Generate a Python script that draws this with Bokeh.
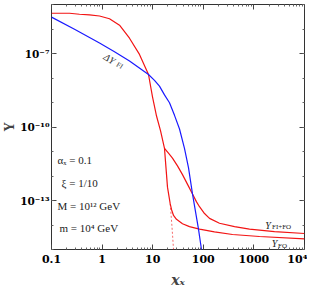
from bokeh.plotting import figure
from bokeh.models import FixedTicker, LogAxis, Range1d
from bokeh.core.properties import value
from bokeh.embed import file_html
from bokeh.resources import INLINE

# ---- data ----
# freeze-in curve (red, upper, steep drop)
fi_x = [0.1, 0.227, 0.357, 0.564, 0.889, 1.40, 2.21, 3.48, 5.48, 8.26, 9.91, 11.9, 14.3, 17.1, 19.6, 22.2]
fi_y = [4.4e-6, 4.4e-6, 4.0e-6, 3.76e-6, 3.4e-6, 2.61e-6, 1.43e-6, 4.2e-7, 9.2e-8, 1.39e-8, 1.7e-9,
        2.81e-10, 6.9e-11, 1.34e-11, 3.5e-13, 7.3e-14]
# dashed continuation of the freeze-in curve
fid_x = [22.2, 24.0, 25.8, 26.1]
fid_y = [7.3e-14, 9.0e-15, 1.0e-15, 6.9e-16]
# Y_FI+FO
fifo_x = [17.1, 20.5, 24.6, 30.9, 38.8, 48.8, 61.2, 73.5, 84.1, 105.7, 132.7, 208.9, 414, 818, 2553, 10000]
fifo_y = [1.34e-11, 8.5e-12, 5.37e-12, 2.59e-12, 1.14e-12, 4.56e-13, 1.83e-13, 8.8e-14, 5.57e-14,
          2.94e-14, 1.86e-14, 1.18e-14, 8.6e-15, 6.8e-15, 5.4e-15, 4.5e-15]
# Y_FO
fo_x = [22.2, 23.6, 25.8, 29.5, 38.8, 53.3, 84.1, 166, 378, 1291, 10000]
fo_y = [7.3e-14, 4.2e-14, 2.45e-14, 1.70e-14, 1.13e-14, 8.6e-15, 6.8e-15, 5.2e-15, 4.1e-15, 3.4e-15, 2.7e-15]
# Delta Y_FI (blue)
dfi_x = [0.1, 0.285, 0.889, 1.758, 3.483, 8.26, 10.86, 13.61, 17.10, 21.48, 26.98, 33.88, 42.46, 51.05,
         61.24, 70.15, 80.35, 92.0, 93.3]
dfi_y = [3.05e-6, 9.7e-7, 2.66e-7, 1.19e-7, 4.99e-8, 1.39e-8, 8.0e-9, 4.65e-9, 2.04e-9, 9.8e-10,
         2.99e-10, 8.3e-11, 1.34e-11, 2.15e-12, 1.83e-13, 3.5e-14, 6.8e-15, 1.0e-15, 6.9e-16]

x_ticks = [0.1, 1, 10, 100, 1000, 10000]
x_tick_labels = ["0.1", "1", "10", "100", "1000", "10\u2074"]
x_minor = [m * 10.0 ** e for e in range(-1, 4) for m in range(2, 10)]
y_ticks = [1e-13, 1e-10, 1e-7]
y_tick_labels = ["10\u207b\u00b9\u00b3", "10\u207b\u00b9\u2070", "10\u207b\u2077"]
y_minor = [10.0 ** e for e in range(-15, -4)]

params = ["\u03b1\u2093 = 0.1", "\u03be = 1/10", "M = 10\u00b9\u00b2 GeV", "m = 10\u2074 GeV"]
params_x = [0.1316, 0.158, 0.1316, 0.144]
params_y = [4.6e-12, 5.2e-13, 5.9e-14, 7.3e-15]

SERIF = "Liberation Serif"
TICKF = "DejaVu Serif"

p = figure(frame_width=253, frame_height=245, x_axis_type="log", y_axis_type="log",
           x_range=Range1d(0.1, 1e4), y_range=Range1d(1e-15, 1e-5),
           output_backend="svg", toolbar_location=None,
           min_border_left=44, min_border_right=2, min_border_top=0, min_border_bottom=31)
p.grid.visible = False
p.background_fill_color = "white"
p.border_fill_color = "white"
p.outline_line_color = "#333333"
p.outline_line_width = 1


def style_axis(ax, size="11px"):
    ax.axis_line_color = None
    ax.major_tick_in = 5
    ax.major_tick_out = 0
    ax.minor_tick_in = 2
    ax.minor_tick_out = 0
    ax.major_tick_line_color = "#444444"
    ax.minor_tick_line_color = "#666666"
    ax.major_label_text_font = TICKF
    ax.major_label_text_font_style = "bold"
    ax.major_label_text_font_size = size
    ax.major_label_text_color = "black"


xa = p.xaxis[0]
xa.ticker = FixedTicker(ticks=x_ticks, minor_ticks=x_minor)
xa.major_label_overrides = dict(zip(x_ticks, x_tick_labels))
style_axis(xa, "11px")
xa.major_label_standoff = 3
xa.axis_label = "x\u2093"
xa.axis_label_text_font = TICKF
xa.axis_label_text_font_style = "bold italic"
xa.axis_label_text_font_size = "14px"
xa.axis_label_standoff = 3

ya = p.yaxis[0]
ya.ticker = FixedTicker(ticks=y_ticks, minor_ticks=y_minor)
ya.major_label_overrides = dict(zip(y_ticks, y_tick_labels))
style_axis(ya, "10.5px")
ya.major_label_standoff = 2
ya.axis_label = "Y"
ya.axis_label_text_font = TICKF
ya.axis_label_text_font_style = "bold"
ya.axis_label_text_font_size = "12px"
ya.axis_label_standoff = 0

# frame ticks on the top and right sides (no labels)
top = LogAxis(ticker=FixedTicker(ticks=x_ticks, minor_ticks=x_minor))
style_axis(top, "1px")
top.major_label_overrides = {t: " " for t in x_ticks}
top.major_label_standoff = 0
p.add_layout(top, "above")
right = LogAxis(ticker=FixedTicker(ticks=y_ticks, minor_ticks=y_minor))
style_axis(right, "1px")
right.major_label_overrides = {t: " " for t in y_ticks}
right.major_label_standoff = 0
p.add_layout(right, "right")

RED = "#f21414"
BLUE = "#1a1aff"
LW = 1.2
p.line(fi_x, fi_y, line_color=RED, line_width=LW)
p.line(fid_x, fid_y, line_color=RED, line_width=0.8, line_dash="2 2", line_alpha=0.8)
p.line(fifo_x, fifo_y, line_color=RED, line_width=LW)
p.line(fo_x, fo_y, line_color=RED, line_width=LW)
p.line(dfi_x, dfi_y, line_color=BLUE, line_width=LW)

# curve labels
p.text(x=[1.40], y=[6.0e-8], text=["\u0394Y"], angle=-0.56, text_font=value(SERIF),
       text_font_style="italic", text_font_size="10px", text_align="center", text_baseline="middle",
       text_color="#333333")
p.text(x=[2.21], y=[3.16e-8], text=["FI"], angle=-0.56, text_font=value(SERIF),
       text_font_size="7px", text_align="center", text_baseline="middle", text_color="#333333")

p.text(x=[1901], y=[9.8e-15], text=["Y"], text_font=value(SERIF), text_font_style="italic",
       text_font_size="10px", text_align="center", text_baseline="middle", text_color="#222222")
p.text(x=[2280], y=[8.2e-15], text=["FI+FO"], text_font=value(SERIF),
       text_font_size="7px", text_align="left", text_baseline="middle", text_color="#222222")
p.text(x=[2553], y=[1.73e-15], text=["Y"], text_font=value(SERIF), text_font_style="italic",
       text_font_size="10px", text_align="center", text_baseline="middle", text_color="#222222")
p.text(x=[2992], y=[1.44e-15], text=["FO"], text_font=value(SERIF),
       text_font_size="7px", text_align="left", text_baseline="middle", text_color="#222222")

# parameter annotations
p.text(x=params_x, y=params_y, text=params, text_font=value(SERIF), text_font_size="11px",
       text_align="left", text_baseline="middle", text_color="#222222")

open("out.html", "w").write(file_html(p, INLINE))
